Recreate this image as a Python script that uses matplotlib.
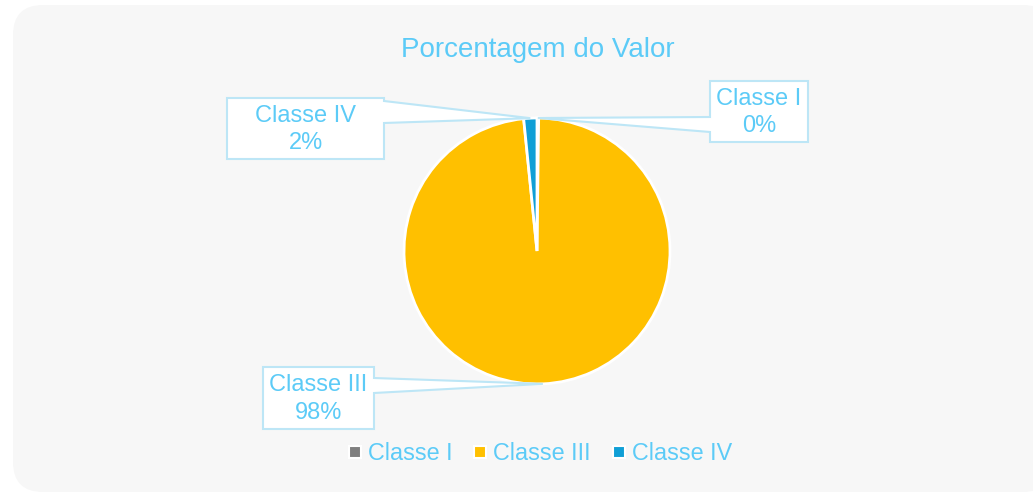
import matplotlib.pyplot as plt
import numpy as np
from matplotlib.patches import FancyBboxPatch, Polygon
from matplotlib.lines import Line2D

plt.rcParams['font.family'] = ['Liberation Sans', 'DejaVu Sans']

classes = ['Classe I', 'Classe III', 'Classe IV']
values = [0.2, 98.2, 1.6]
pct_labels = ['0%', '98%', '2%']
colors = ['#7F7F7F', '#FFC000', '#109FD6']

txt_color = '#5CCBF7'
box_edge = '#BDE6F6'

W, H = 1033, 495
fig = plt.figure(figsize=(W / 100, H / 100), dpi=100)
ax = fig.add_axes([0, 0, 1, 1])

# rounded chart background
bg = FancyBboxPatch((13, 3), 1040, 487, boxstyle='round,pad=0,rounding_size=30',
                    facecolor='#F7F7F7', edgecolor='none', zorder=0)
ax.add_patch(bg)

cx, cy, r = 537, 244, 133
wedges, _ = ax.pie(values, colors=colors, startangle=90, counterclock=False,
                   center=(cx, cy), radius=r,
                   wedgeprops=dict(edgecolor='white', linewidth=2))
for w in wedges:
    w.set_zorder(2)

ax.set_xlim(0, W)
ax.set_ylim(0, H)
ax.axis('off')

ax.text(538, H - 50, 'Porcentagem do Valor', ha='center', va='center',
        fontsize=20, color=txt_color)

# callout boxes: (x0, x1, top, bottom, side, pointer y1, pointer y2) in pixels from top
boxes = {
    'Classe I': (710, 808, 81, 142, 'left', 117, 132),
    'Classe III': (263, 374, 367, 429, 'right', 378, 393),
    'Classe IV': (227, 384, 98, 159, 'right', 101, 123),
}

for w, name, pct in zip(wedges, classes, pct_labels):
    mid = np.deg2rad((w.theta1 + w.theta2) / 2)
    tip = (cx + r * np.cos(mid), cy + r * np.sin(mid))
    x0, x1, top, bot, side, p1, p2 = boxes[name]
    t, b = H - top, H - bot
    q1, q2 = H - p1, H - p2
    if side == 'right':
        pts = [(x0, t), (x1, t), (x1, q1), tip, (x1, q2), (x1, b), (x0, b)]
    else:
        pts = [(x0, t), (x1, t), (x1, b), (x0, b), (x0, q2), tip, (x0, q1)]
    ax.add_patch(Polygon(pts, closed=True, facecolor='white', edgecolor=box_edge,
                         linewidth=1.5, zorder=3))
    ax.text((x0 + x1) / 2, (t + b) / 2 - 1, name + '\n' + pct, ha='center', va='center',
            fontsize=17, color=txt_color, linespacing=1.3, zorder=4)

handles = [Line2D([], [], marker='s', linestyle='none', markersize=8,
                  markerfacecolor=c, markeredgecolor='white', markeredgewidth=1.5)
           for c in colors]
leg = ax.legend(handles, classes, loc='center', bbox_to_anchor=(540 / W, 1 - 454 / H),
                ncol=3, frameon=False, fontsize=16.8, handlelength=0.6, handletextpad=0.25,
                columnspacing=0.9, labelcolor=txt_color)

fig.savefig('out.png', dpi=100, facecolor='white')
